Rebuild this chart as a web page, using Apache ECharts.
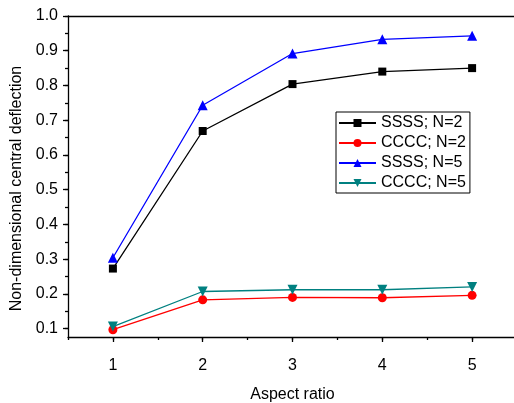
<!DOCTYPE html>
<html><head><meta charset="utf-8">
<script src="https://cdn.jsdelivr.net/npm/echarts@6/dist/echarts.min.js"></script>
<style>html,body{margin:0;padding:0;background:#fff}#c{width:514px;height:403px}</style>
</head><body><div id="c"></div>
<script>
var aspectRatio = [1, 2, 3, 4, 5];
var ssssN2 = [0.273, 0.669, 0.804, 0.840, 0.850];
var ccccN2 = [0.097, 0.183, 0.190, 0.189, 0.196];
var ssssN5 = [0.304, 0.743, 0.892, 0.933, 0.943];
var ccccN5 = [0.106, 0.207, 0.212, 0.212, 0.220];
var yMajor = [0.1, 0.2, 0.3, 0.4, 0.5, 0.6, 0.7, 0.8, 0.9, 1.0];
var yMinor = [0.1, 0.15, 0.2, 0.25, 0.3, 0.35, 0.4, 0.45, 0.5, 0.55, 0.6, 0.65, 0.7, 0.75, 0.8, 0.85, 0.9, 0.95, 1.0];
var xMajor = [1, 2, 3, 4, 5];
var xMinor = [0.5, 1, 1.5, 2, 2.5, 3, 3.5, 4, 4.5, 5, 5.5];

function pairs(v){ return aspectRatio.map(function(x,i){return [x, v[i]];}); }
var font = 'Arial, "Liberation Sans", sans-serif';
var chart = echarts.init(document.getElementById('c'));
function mk(name, data, color, symbol, size){
  return {name:name, type:'line', data:pairs(data), xAxisIndex:0, yAxisIndex:0,
    symbol:symbol, symbolSize:size, lineStyle:{color:color, width:1.3},
    itemStyle:{color:color}, animation:false};
}
chart.setOption({
  animation:false,
  grid:{left:68, right:-3, top:16, bottom:66, outerBoundsMode:'none', containLabel:false},
  legend:{left:336, top:112, orient:'vertical', padding:[3,4,2,2], itemGap:4,
    itemWidth:37, itemHeight:10, borderColor:'#000', borderWidth:1, borderRadius:0,
    textStyle:{fontFamily:font, fontSize:16, color:'#000'},
    data:['SSSS; N=2','CCCC; N=2','SSSS; N=5','CCCC; N=5']},
  xAxis:[
    {type:'value', min:0.5, max:5.5, position:'bottom',
     name:'Aspect ratio', nameLocation:'middle', nameGap:50,
     nameTextStyle:{fontFamily:font, fontSize:16, color:'#000'},
     axisLine:{lineStyle:{color:'#000', width:1.3}},
     axisTick:{show:true, inside:false, length:5, customValues:xMajor, lineStyle:{color:'#000', width:1.3}},
     axisLabel:{customValues:xMajor, margin:21, fontFamily:font, fontSize:16, color:'#000'},
     splitLine:{show:false}},
    {type:'value', min:0.5, max:5.5, position:'bottom',
     axisLine:{show:false}, axisLabel:{show:false}, splitLine:{show:false},
     axisTick:{show:true, length:3, customValues:xMinor, lineStyle:{color:'#000', width:1.3}}},
    {type:'value', min:0.5, max:5.5, position:'top',
     axisLine:{lineStyle:{color:'#000', width:1.3}}, axisLabel:{show:false}, axisTick:{show:false}, splitLine:{show:false}}
  ],
  yAxis:[
    {type:'value', min:0.076, max:1.0, position:'left',
     name:'Non-dimensional central deflection', nameLocation:'middle', nameGap:42,
     nameTextStyle:{fontFamily:font, fontSize:16, color:'#000', padding:[0,24,0,0]},
     axisLine:{show:true, lineStyle:{color:'#000', width:1.3}},
     axisTick:{show:true, length:5, customValues:yMajor, lineStyle:{color:'#000', width:1.3}},
     axisLabel:{customValues:yMajor, margin:10, fontFamily:font, fontSize:16, color:'#000',
       formatter:function(v){return v.toFixed(1);}},
     splitLine:{show:false}},
    {type:'value', min:0.076, max:1.0, position:'left',
     axisLine:{show:false}, axisLabel:{show:false}, splitLine:{show:false},
     axisTick:{show:true, length:3, customValues:yMinor, lineStyle:{color:'#000', width:1.3}}}
  ],
  series:[
    mk('SSSS; N=2', ssssN2, '#000000', 'rect', 8),
    mk('CCCC; N=2', ccccN2, '#ff0000', 'circle', 9),
    mk('SSSS; N=5', ssssN5, '#0000ff', 'triangle', 10),
    mk('CCCC; N=5', ccccN5, '#008080', 'path://M0,0 L10,0 L5,9 Z', 10)
  ]
});
</script></body></html>
